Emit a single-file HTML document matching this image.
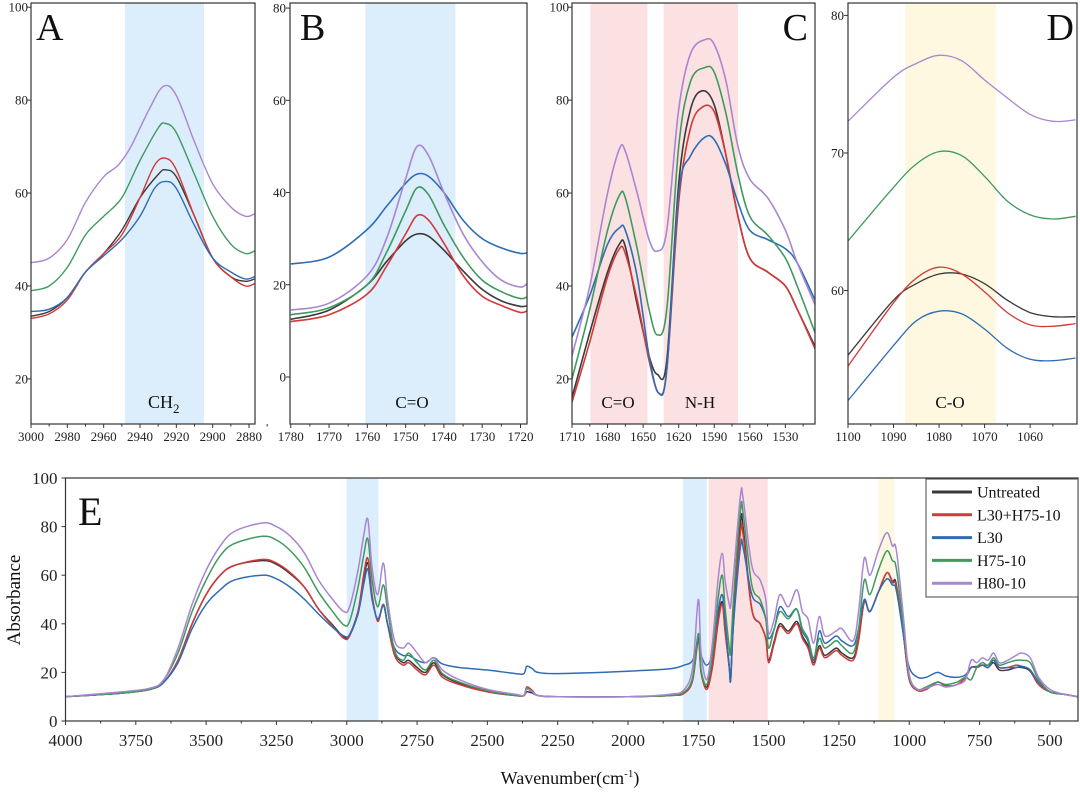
<!DOCTYPE html>
<html><head><meta charset="utf-8"><style>
html,body{margin:0;padding:0;background:#fff;}
svg{display:block;font-family:"Liberation Serif",serif;}
</style></head><body>
<svg id="fig" width="1080" height="793" viewBox="0 0 1080 793" xmlns="http://www.w3.org/2000/svg"></svg>
<script>
// ---- Data ----
const seriesNames = ["Untreated","L30+H75-10","L30","H75-10","H80-10"];
const seriesColors = ["#3a3a3a","#d23a3a","#2e6db4","#3f9a5e","#a985d2"];

// Panel A (CH2)
const aBlack = [[3000,33.5],[2990,34.5],[2980,37.5],[2970,43],[2960,47],[2950,52],[2940,59],[2930,64],[2926,65],[2920,63.5],[2910,55],[2900,46],[2890,42],[2882,41],[2877,41.5]];
const aRed = [[3000,33],[2990,34],[2980,37],[2970,43],[2960,47],[2950,51],[2940,59],[2932,66],[2926,67.5],[2920,65],[2910,55],[2900,46],[2890,42],[2882,40],[2877,40.5]];
const aBlue = [[3000,34.5],[2990,35],[2980,37.5],[2970,43],[2960,46.5],[2950,50],[2940,55],[2932,61],[2926,62.5],[2920,61],[2910,53],[2900,46],[2890,43],[2882,41.5],[2877,42]];
const aGreen = [[3000,39],[2990,40],[2980,44],[2970,51],[2960,55],[2950,59],[2940,67],[2930,74],[2926,75],[2920,73],[2910,64],[2900,55],[2890,49],[2882,47],[2877,47.5]];
const aPurple = [[3000,45],[2990,46],[2980,50],[2970,58],[2960,63.5],[2952,66],[2945,70],[2935,78],[2927,83],[2920,81],[2910,71],[2900,62],[2890,57],[2882,55],[2877,55.5]];

// Panel B (C=O)
const bBlack = [[1780,12.5],[1770,14.5],[1760,20],[1755,25],[1750,29.5],[1747,31],[1744,30.5],[1740,27.5],[1735,23],[1730,19],[1725,16.5],[1720,15.3],[1718,15.5]];
const bRed = [[1780,12],[1770,13.5],[1760,18],[1755,24],[1750,31],[1747,35],[1744,34],[1740,29],[1735,22],[1730,17.5],[1725,15.5],[1720,14],[1718,14.5]];
const bBlue = [[1780,24.5],[1770,26],[1760,32],[1755,37],[1750,42],[1747,44],[1744,43.5],[1740,40],[1735,34],[1730,30],[1725,28],[1720,26.8],[1718,27]];
const bGreen = [[1780,13.5],[1770,15],[1760,20],[1755,27],[1750,36],[1747,41],[1744,39.5],[1740,33],[1735,26],[1730,21],[1725,18.5],[1720,17],[1718,17.5]];
const bPurple = [[1780,14.5],[1770,16],[1760,22],[1755,30],[1750,43],[1747,50],[1744,48],[1740,40],[1735,31],[1730,25],[1725,21],[1720,19.5],[1718,20.5]];

// Panel C (C=O / N-H)
const cBlack = [[1710,16],[1695,30],[1680,43],[1670,49],[1665,48.5],[1655,36],[1645,25],[1638,21],[1630,24],[1620,62],[1610,78],[1600,82],[1590,79],[1580,68],[1570,55],[1560,46],[1545,43],[1530,40],[1520,35],[1505,27]];
const cRed = [[1710,15],[1695,28],[1680,42],[1670,48],[1665,47],[1655,37],[1645,24],[1637,17],[1630,22],[1620,58],[1610,74],[1600,78.5],[1590,77.5],[1580,68],[1570,55],[1560,46],[1545,43],[1530,40],[1520,35],[1505,26.5]];
const cBlue = [[1710,29],[1695,38],[1680,49],[1670,52.5],[1665,52],[1655,42],[1645,25],[1637,17],[1630,22],[1620,60],[1610,68],[1598,72],[1590,71.5],[1580,66],[1570,58],[1560,52],[1545,50],[1530,48],[1520,45],[1505,37]];
const cGreen = [[1710,20],[1695,35],[1680,52],[1670,59.5],[1665,59],[1655,48],[1645,35],[1638,29.5],[1630,35],[1620,70],[1610,84],[1598,87],[1590,86],[1580,77],[1570,64],[1560,55],[1545,51],[1530,46],[1520,40],[1505,30]];
const cPurple = [[1710,25],[1695,40],[1680,60],[1670,69.5],[1665,69],[1655,60],[1645,50],[1638,47.5],[1630,52],[1620,78],[1610,90],[1598,93],[1590,92],[1580,84],[1570,70],[1560,63],[1545,59],[1530,52],[1520,45],[1505,36]];

// Panel D (C-O)
const dBlack = [[1100,55.3],[1090,59.3],[1085,60.5],[1080,61.2],[1075,61.2],[1070,60.5],[1065,59.3],[1060,58.4],[1055,58.1],[1050,58.1]];
const dRed = [[1100,54.5],[1090,59.1],[1085,60.9],[1080,61.7],[1075,61.2],[1070,59.9],[1065,58.4],[1060,57.5],[1055,57.4],[1050,57.6]];
const dBlue = [[1100,52.0],[1090,56.0],[1085,57.8],[1080,58.5],[1075,58.3],[1070,57.2],[1065,55.8],[1060,55.0],[1055,54.9],[1050,55.1]];
const dGreen = [[1100,63.6],[1090,67.5],[1085,69.2],[1080,70.1],[1075,69.8],[1070,68.3],[1065,66.5],[1060,65.5],[1055,65.2],[1050,65.4]];
const dPurple = [[1100,72.3],[1090,75.5],[1085,76.5],[1080,77.1],[1075,76.7],[1070,75.3],[1065,74],[1060,72.8],[1055,72.3],[1050,72.4]];

// Panel E (full spectrum)
const eRed = [[4000,10],[3800,11.5],[3700,13],[3650,16],[3600,25],[3550,40],[3500,52],[3450,60],[3400,64],[3300,66.5],[3250,65],[3200,61],[3150,55],[3100,46],[3050,39],[3010,34],[2990,35],[2960,45],[2940,60],[2925,67],[2910,52],[2890,41],[2870,48],[2855,40],[2830,27],[2800,23],[2780,24],[2750,21],[2720,19],[2690,23],[2660,18],[2600,15],[2500,12],[2400,10.5],[2370,10.5],[2360,14],[2340,12.5],[2320,10.5],[2250,10],[2000,10],[1850,10.5],[1800,11.5],[1770,17],[1750,33],[1740,20],[1720,13],[1700,22],[1680,40],[1665,48],[1655,37],[1640,22],[1635,17],[1625,40],[1600,78],[1590,76],[1560,46],[1530,40],[1510,34],[1500,24],[1480,32],[1460,39],[1430,36],[1400,40],[1380,34],[1360,30],[1340,23],[1320,30],[1300,26],[1260,29],[1240,27],[1200,25],[1180,33],[1160,49],[1140,45],[1110,53],[1080,61],[1060,57],[1050,57],[1040,52],[1020,35],[1000,17],[970,12.5],[940,13],[900,16],[870,14.5],[830,15],[800,18],[780,22],[760,22],[740,23],[720,23],[700,25],[680,22],[650,22],[620,23],[600,22.5],[570,21],[540,15],[500,12],[450,11],[400,10]];
const eBlack = [[4000,10],[3800,11.5],[3700,13],[3650,16],[3600,25],[3550,40],[3500,52],[3450,60],[3400,64],[3300,66],[3250,64.5],[3200,60.5],[3150,55],[3100,46],[3050,39.5],[3010,34.5],[2990,35.5],[2960,45],[2940,58],[2925,65],[2910,51],[2890,41.5],[2870,48],[2855,40],[2830,28],[2800,24],[2780,25],[2750,22],[2720,20],[2690,24],[2660,19],[2600,15.5],[2500,12],[2400,10.5],[2370,10.5],[2360,12],[2340,11.5],[2320,10.5],[2250,10],[2000,10],[1850,10.5],[1800,11.5],[1770,17],[1750,35],[1740,20],[1720,14],[1700,23],[1680,42],[1665,49],[1655,38],[1640,22],[1635,18],[1625,42],[1600,82],[1590,79],[1560,46],[1530,40],[1510,34],[1500,25],[1480,33],[1460,40],[1430,37],[1400,41],[1380,35],[1360,31],[1340,24],[1320,31],[1300,27],[1260,30],[1240,28],[1200,26],[1180,34],[1160,49],[1140,45],[1110,53],[1080,61],[1060,57.5],[1050,58],[1040,52],[1020,35],[1000,17],[970,13],[940,13],[900,16],[870,14.5],[830,15],[800,18],[780,22],[760,22],[740,23],[720,22],[700,24],[680,21],[650,21],[620,22],[600,22],[570,20.5],[540,15],[500,12],[450,11],[400,10]];
const eBlue = [[4000,10],[3800,11.5],[3700,13],[3650,16],[3600,24],[3550,38],[3500,48],[3450,54],[3400,58],[3300,60],[3250,58.5],[3200,55],[3150,50],[3100,44],[3050,38.5],[3010,35],[2990,35.5],[2960,44],[2940,56],[2925,62.5],[2910,50],[2890,42],[2870,47.5],[2855,40],[2830,30],[2800,27],[2780,27],[2750,25],[2720,24],[2690,26],[2660,23.5],[2600,22],[2500,21],[2400,19.5],[2370,19.5],[2360,22.5],[2340,21.5],[2320,20],[2250,19.5],[2000,20.5],[1850,21.5],[1800,23],[1770,25],[1750,33],[1740,27],[1720,23],[1700,28],[1680,45],[1665,52],[1655,42],[1640,22],[1635,17],[1625,40],[1600,72],[1590,71],[1560,52],[1530,48],[1510,42],[1500,34],[1480,38],[1460,47],[1430,43],[1400,46],[1380,37],[1360,33],[1340,25],[1320,37],[1300,32],[1260,35],[1240,33],[1200,31],[1180,38],[1160,50],[1140,45],[1110,53],[1080,58.5],[1060,56],[1050,55.5],[1040,50],[1020,35],[1000,22],[970,18],[940,18],[900,20],[870,18.5],[830,18],[800,19],[780,22],[760,22.5],[740,23],[720,22],[700,25],[680,22],[650,22],[620,22],[600,22.5],[570,21],[540,16],[500,12],[450,11],[400,10]];
const eGreen = [[4000,10],[3800,11.5],[3700,13],[3650,17],[3600,28],[3550,45],[3500,58],[3450,68],[3400,73],[3300,76],[3250,74.5],[3200,70],[3150,63],[3100,53],[3050,45],[3010,39.5],[2990,41],[2960,55],[2940,68],[2925,75],[2910,58],[2890,47],[2870,56],[2855,46],[2830,29],[2800,25],[2780,28],[2750,24],[2720,21],[2690,25],[2660,19.5],[2600,16],[2500,12.5],[2400,10.5],[2370,10.5],[2360,13.5],[2340,12],[2320,10.5],[2250,10],[2000,10],[1850,10.5],[1800,12],[1770,18],[1750,36],[1740,21],[1720,15],[1700,27],[1680,50],[1665,60],[1655,47],[1640,30],[1635,29],[1625,50],[1600,87],[1590,85],[1560,56],[1530,50],[1510,42],[1500,30],[1480,38],[1460,45],[1430,42],[1400,46],[1380,38],[1360,34],[1340,26],[1320,34],[1300,30],[1260,33],[1240,31],[1200,28],[1180,38],[1160,58],[1140,52],[1110,62],[1080,70],[1060,66],[1050,65],[1040,58],[1020,38],[1000,18],[970,13],[940,14],[900,16],[870,15],[830,16],[800,18],[780,17],[760,22],[740,24],[720,23],[700,26],[680,23],[650,24],[620,25],[600,25],[570,24],[540,17],[500,12],[450,11],[400,10]];
const ePurple = [[4000,10],[3800,12],[3700,13.5],[3650,17],[3600,30],[3550,48],[3500,62],[3450,72],[3400,78],[3300,81.5],[3250,80],[3200,76],[3150,69],[3100,58],[3050,50],[3010,45],[2990,47],[2960,62],[2940,76],[2925,83],[2910,63],[2890,52],[2870,65],[2855,50],[2830,33],[2800,30],[2780,32],[2750,28],[2720,24],[2690,26],[2660,21],[2600,17],[2500,13],[2400,11],[2370,10.5],[2360,13],[2340,12],[2320,10.5],[2250,10],[2000,10],[1850,11],[1800,13],[1770,22],[1750,50],[1740,28],[1720,17],[1700,32],[1680,58],[1665,69],[1655,58],[1640,48],[1635,47.5],[1625,60],[1600,93],[1590,91],[1560,64],[1530,58],[1510,50],[1500,36],[1480,42],[1460,52],[1430,47],[1400,54],[1380,45],[1360,42],[1340,32],[1320,43],[1300,35],[1260,37],[1240,38],[1200,33],[1180,45],[1160,67],[1140,60],[1110,70],[1080,77.5],[1060,72],[1050,72.5],[1040,65],[1020,42],[1000,19],[970,13],[940,13.5],[900,15],[870,14],[830,15],[800,17],[780,25],[760,24],[740,26],[720,25],[700,28],[680,24],[650,25],[620,27],[600,28],[570,26],[540,18],[500,13],[450,11],[400,10]];

const aTicksX = [3000,2980,2960,2940,2920,2900,2880];
const aTicksY = [20,40,60,80,100];
const bTicksX = [1780,1770,1760,1750,1740,1730,1720];
const bTicksY = [0,20,40,60,80];
const cTicksX = [1710,1680,1650,1620,1590,1560,1530];
const cTicksY = [20,40,60,80,100];
const dTicksX = [1100,1090,1080,1070,1060];
const dTicksY = [60,70,80];
const eTicksX = [4000,3750,3500,3250,3000,2750,2500,2250,2000,1750,1500,1250,1000,750,500];
const eTicksY = [0,20,40,60,80,100];

// ---- Drawing ----
const NS = "http://www.w3.org/2000/svg";
const svg = document.getElementById('fig');
function mk(tag, attrs, parent){ const e=document.createElementNS(NS,tag); for(const k in attrs) e.setAttribute(k,attrs[k]); (parent||svg).appendChild(e); return e; }
function smoothPath(pts){
  let d = "M"+pts[0][0].toFixed(1)+","+pts[0][1].toFixed(1);
  for(let i=0;i<pts.length-1;i++){
    const p0=pts[i-1]||pts[i], p1=pts[i], p2=pts[i+1], p3=pts[i+2]||p2;
    const c1x=p1[0]+(p2[0]-p0[0])/6, c1y=p1[1]+(p2[1]-p0[1])/6;
    const c2x=p2[0]-(p3[0]-p1[0])/6, c2y=p2[1]-(p3[1]-p1[1])/6;
    d+=" C"+c1x.toFixed(1)+","+c1y.toFixed(1)+" "+c2x.toFixed(1)+","+c2y.toFixed(1)+" "+p2[0].toFixed(1)+","+p2[1].toFixed(1);
  }
  return d;
}

function panel(cfg){
  const g = mk('g',{});
  
  
  const sx = v => cfg.x0 + (cfg.xa - v)/(cfg.xa - cfg.xb)*(cfg.x1-cfg.x0);
  const sy = v => cfg.y1 - (v - cfg.ya)/(cfg.yb - cfg.ya)*(cfg.y1-cfg.y0);
  // shaded bands
  cfg.bands.forEach(b=>{
    const r = mk('rect',{x:sx(b[0]),y:cfg.y0,width:sx(b[1])-sx(b[0]),height:cfg.y1-cfg.y0,fill:b[2]},g);
    
    
  });
  // series
  const clipId = cfg.name+'-clip';
  const cp = mk('clipPath',{id:clipId},g);
  mk('rect',{x:cfg.x0,y:cfg.y0,width:cfg.x1-cfg.x0,height:cfg.y1-cfg.y0},cp);
  cfg.series.forEach((s,i)=>{
    const pts = s.map(p=>[sx(p[0]),sy(p[1])]);
    const p = mk('path',{d:smoothPath(pts),fill:'none',stroke:seriesColors[i],'stroke-width':cfg.lw,'clip-path':'url(#'+clipId+')','stroke-linejoin':'round'},g);
    
    
  });
  // frame
  const fr = mk('rect',{x:cfg.x0,y:cfg.y0,width:cfg.x1-cfg.x0,height:cfg.y1-cfg.y0,fill:'none',stroke:'#333','stroke-width':1.2},g);
  
  
  // x ticks
  const xt = cfg.xt;
  for(let i=0;i<xt.length;i++){
    const X = sx(xt[i]);
    mk('line',{x1:X,x2:X,y1:cfg.y1,y2:cfg.y1+4,stroke:'#333','stroke-width':1},g);
    const t = mk('text',{x:X,y:cfg.y1+cfg.xlOff,'text-anchor':'middle','font-size':cfg.fs,fill:'#222'},g);
    t.textContent = xt[i];
    
    
    if(i<xt.length-1){
      const m = (xt[i]+xt[i+1])/2, MX=sx(m);
      mk('line',{x1:MX,x2:MX,y1:cfg.y1,y2:cfg.y1+2.5,stroke:'#333','stroke-width':1},g);
    }
  }
  if(cfg.xMinorEnd!==undefined){ const MX=sx(cfg.xMinorEnd); mk('line',{x1:MX,x2:MX,y1:cfg.y1,y2:cfg.y1+2.5,stroke:'#333','stroke-width':1},g); }
  // y ticks
  const yt = cfg.yt;
  for(let i=0;i<yt.length;i++){
    const Y = sy(yt[i]);
    mk('line',{x1:cfg.x0-4,x2:cfg.x0,y1:Y,y2:Y,stroke:'#333','stroke-width':1},g);
    const t = mk('text',{x:cfg.x0-cfg.ylOff,y:Y+cfg.fs*0.35,'text-anchor':'end','font-size':cfg.fs,fill:'#222'},g);
    t.textContent = yt[i];
    
    
  }
  return {g,sx,sy};
}

const A = panel({name:'panel-a-ch2',x0:31,x1:255,y0:3,y1:424,xa:3000,xb:2876.7,ya:10.3,yb:100.9,xt:aTicksX,yt:aTicksY,fs:13,xlOff:17,ylOff:3,lw:1.4,
  bands:[[2948.3,2904.8,'#dcedfb','ch2-band']], series:[aBlack,aRed,aBlue,aGreen,aPurple], xMinorEnd:2870});
const B = panel({name:'panel-b-co',x0:290,x1:527,y0:3,y1:424,xa:1780.2,xb:1718.3,ya:-10.2,yb:81.1,xt:bTicksX,yt:bTicksY,fs:13,xlOff:17,ylOff:4,lw:1.6,
  bands:[[1760.5,1737,'#dcedfb','co-band']], series:[bBlack,bRed,bBlue,bGreen,bPurple]});
const C = panel({name:'panel-c-co-nh',x0:572,x1:815,y0:3,y1:424,xa:1710,xb:1505,ya:10.3,yb:100.9,xt:cTicksX,yt:cTicksY,fs:13,xlOff:17,ylOff:3,lw:1.6,
  bands:[[1694.5,1646.3,'#fbe1e1','co-band'],[1632.7,1570,'#fbe1e1','nh-band']], series:[cBlack,cRed,cBlue,cGreen,cPurple], xMinorEnd:1515});
const D = panel({name:'panel-d-c-o',x0:848,x1:1077,y0:3,y1:424,xa:1100,xb:1049.7,ya:50.3,yb:80.9,xt:dTicksX,yt:dTicksY,fs:13,xlOff:17,ylOff:4,lw:1.3,
  bands:[[1087.4,1067.5,'#fdf8df','c-o-band']], series:[dBlack,dRed,dBlue,dGreen,dPurple], xMinorEnd:1055});
const E = panel({name:'panel-e-full-spectrum',x0:65.5,x1:1078,y0:478,y1:721,xa:4000,xb:400,ya:0,yb:100,xt:eTicksX,yt:eTicksY,fs:17,xlOff:25,ylOff:8,lw:1.5,
  bands:[[3000,2887,'#dcedfb','ch2-band'],[1805,1720,'#dcedfb','co-band'],[1713,1503,'#fbe1e1','amide-band'],[1109,1053,'#fdf8df','c-o-band']], series:[eBlack,eRed,eBlue,eGreen,ePurple]});

function txt(x,y,s,fs,name,anchor){ const t=mk('text',{x:x,y:y,'font-size':fs,'text-anchor':anchor||'start',fill:'#111'}); t.textContent=s;   return t; }
txt(36,40,'A',38,'panel-label-a');
txt(300,40,'B',38,'panel-label-b');
txt(808,40,'C',38,'panel-label-c','end');
txt(1074,40,'D',38,'panel-label-d','end');
txt(78,525,'E',40,'panel-label-e');
const ch = txt(148,408,'CH',18,'ch2-label');
const sub = document.createElementNS(NS,'tspan'); sub.setAttribute('font-size','13'); sub.setAttribute('dy','5'); sub.textContent='2'; ch.appendChild(sub);
txt(412,408,'C=O',17,'co-label-b','middle');
txt(618,408,'C=O',17,'co-label-c','middle');
txt(700,408,'N-H',17,'nh-label','middle');
txt(950,408,'C-O',17,'c-o-label','middle');
txt(570,784,'Wavenumber(cm',18,'x-axis-title','middle');
const xtt = svg.lastChild; const sp=document.createElementNS(NS,'tspan'); sp.setAttribute('font-size','11'); sp.setAttribute('dy','-7'); sp.textContent='-1'; xtt.appendChild(sp);
const sp2=document.createElementNS(NS,'tspan'); sp2.setAttribute('dy','7'); sp2.textContent=')'; xtt.appendChild(sp2);
const yTitle = txt(0,0,'Absorbance',19,'y-axis-title','middle'); yTitle.setAttribute('transform','translate(20,600) rotate(-90)');

// legend
const lg = mk('g',{});  
mk('rect',{x:926,y:479,width:152,height:118,fill:'#fff',stroke:'#444','stroke-width':1},lg);
seriesNames.forEach((n,i)=>{
  const y = 492 + i*22.8;
  const ln = mk('line',{x1:932,x2:972,y1:y,y2:y,stroke:seriesColors[i],'stroke-width':3},lg);
  
  
  const t = mk('text',{x:977,y:y+5.5,'font-size':16,fill:'#111'},lg);
  t.textContent = n;
  
  
});
</script>
</body></html>
